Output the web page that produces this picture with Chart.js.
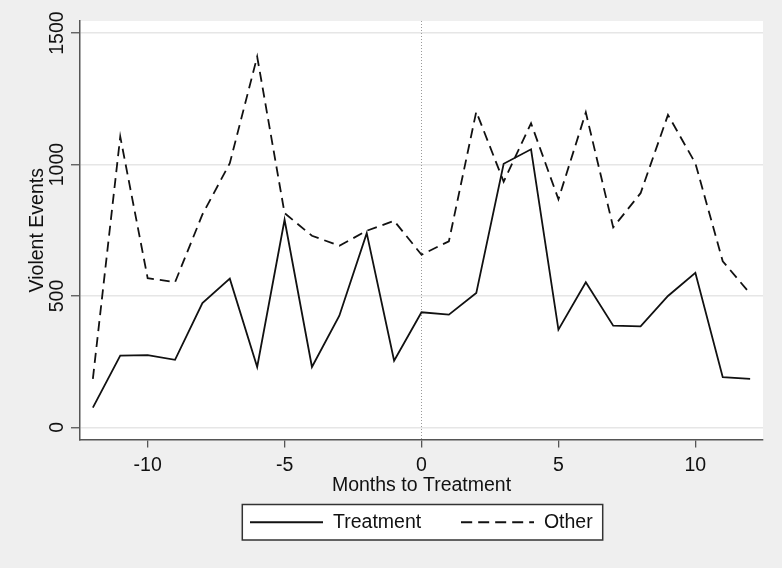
<!DOCTYPE html>
<html lang="en">
<head>
    <meta charset="UTF-8">
    <title>Violent Events by Months to Treatment</title>
    <script src="https://cdn.jsdelivr.net/npm/chart.js"></script>
    <style>
        body { margin: 0; background: #efefef; }
    </style>
</head>
<body>
    <canvas id="myChart" width="782" height="568"></canvas>
    <script>
        // values
        var months = [-12, -11, -10, -9, -8, -7, -6, -5, -4, -3, -2, -1, 0, 1, 2, 3, 4, 5, 6, 7, 8, 9, 10, 11, 12];
        var treatment = [75, 273, 275, 257, 473, 566, 230, 790, 230, 425, 739, 254, 438, 429, 511, 1003, 1058, 372, 552, 387, 384, 500, 588, 191, 185];
        var other = [185, 1106, 568, 552, 810, 1005, 1410, 815, 729, 691, 748, 786, 657, 708, 1201, 935, 1157, 868, 1198, 761, 891, 1189, 1005, 632, 509];
        var xTicks = [-10, -5, 0, 5, 10];
        var yTicks = [0, 500, 1000, 1500];

        function points(values) {
            return months.map(function(m, i) { return {x: m, y: values[i]}; });
        }

        // petit symbole de ligne pour la légende (plein ou tirets)
        function lineSymbol(dash) {
            var c = document.createElement('canvas');
            c.width = 73;
            c.height = 4;
            var g = c.getContext('2d');
            g.strokeStyle = '#111';
            g.lineWidth = 1.8;
            g.setLineDash(dash);
            g.beginPath();
            g.moveTo(0, 2);
            g.lineTo(73, 2);
            g.stroke();
            return c;
        }

        var FONT = "'Liberation Sans', Arial, sans-serif";
        Chart.defaults.font.family = FONT;
        Chart.defaults.font.size = 19.5;
        Chart.defaults.color = '#111';

        // fond gris / zone blanche, boîte de légende, ligne pointillée à 0, étiquettes verticales
        var decor = {
            id: 'decor',
            beforeDraw: function(chart) {
                var ctx = chart.ctx, a = chart.chartArea;
                ctx.save();
                ctx.fillStyle = '#efefef';
                ctx.fillRect(0, 0, chart.width, chart.height);
                ctx.fillStyle = '#ffffff';
                ctx.fillRect(a.left, a.top, a.right - a.left, a.bottom - a.top);
                var hb = chart.legend.legendHitBoxes;
                if (hb && hb.length) {
                    var l = hb[0].left - 8;
                    var last = hb[hb.length - 1];
                    var r = last.left + last.width + 10;
                    var t = hb[0].top - 8;
                    var b = hb[0].top + hb[0].height + 8;
                    ctx.fillRect(l, t, r - l, b - t);
                    ctx.strokeStyle = '#333';
                    ctx.lineWidth = 1.5;
                    ctx.strokeRect(l, t, r - l, b - t);
                }
                ctx.restore();
            },
            beforeDatasetsDraw: function(chart) {
                var ctx = chart.ctx, a = chart.chartArea;
                var x0 = chart.scales.x.getPixelForValue(0);
                ctx.save();
                ctx.strokeStyle = '#9a9a9a';
                ctx.lineWidth = 1;
                ctx.setLineDash([1, 2]);
                ctx.beginPath();
                ctx.moveTo(x0, a.top);
                ctx.lineTo(x0, a.bottom);
                ctx.stroke();
                ctx.restore();
            },
            afterDraw: function(chart) {
                var ctx = chart.ctx, y = chart.scales.y;
                ctx.save();
                ctx.fillStyle = '#111';
                ctx.font = '19.5px ' + FONT;
                ctx.textAlign = 'center';
                ctx.textBaseline = 'middle';
                y.ticks.forEach(function(t) {
                    ctx.save();
                    ctx.translate(58, y.getPixelForValue(t.value));
                    ctx.rotate(-Math.PI / 2);
                    ctx.fillText(String(t.value), 0, 0);
                    ctx.restore();
                });
                ctx.restore();
            }
        };

        var ctx = document.getElementById('myChart').getContext('2d');
        var myChart = new Chart(ctx, {
            type: 'line',
            data: {
                datasets: [{
                    label: 'Treatment',
                    data: points(treatment),
                    borderColor: '#111',
                    borderWidth: 1.8,
                    pointRadius: 0,
                    pointStyle: lineSymbol([]),
                    tension: 0,
                    fill: false
                }, {
                    label: 'Other',
                    data: points(other),
                    borderColor: '#111',
                    borderWidth: 1.8,
                    borderDash: [10, 6],
                    pointRadius: 0,
                    pointStyle: lineSymbol([11, 6]),
                    tension: 0,
                    fill: false
                }]
            },
            options: {
                responsive: false,
                animation: false,
                layout: { padding: { top: 21, right: 19, left: 0, bottom: 26 } },
                plugins: {
                    tooltip: { enabled: false },
                    legend: {
                        position: 'bottom',
                        fullSize: false,
                        labels: {
                            usePointStyle: true,
                            pointStyleWidth: 73,
                            padding: 40,
                            color: '#111',
                            font: { size: 19.5 }
                        }
                    }
                },
                scales: {
                    x: {
                        type: 'linear',
                        min: -12.47,
                        max: 12.47,
                        afterBuildTicks: function(s) { s.ticks = xTicks.map(function(v) { return {value: v}; }); },
                        afterFit: function(s) { s.height = 33; },
                        ticks: {
                            padding: 6,
                            color: '#111',
                            callback: function(v) { return String(v); }
                        },
                        grid: { drawOnChartArea: false, drawTicks: true, tickLength: 8, tickColor: '#555', lineWidth: 1.3 },
                        border: { color: '#555', width: 1.5 },
                        title: { display: true, text: 'Months to Treatment', color: '#111', padding: { top: 0, bottom: -25 } }
                    },
                    y: {
                        type: 'linear',
                        min: -46,
                        max: 1546,
                        afterBuildTicks: function(s) { s.ticks = yTicks.map(function(v) { return {value: v}; }); },
                        afterFit: function(s) { s.width = 80; },
                        ticks: { display: false },
                        grid: { color: '#e6e6e6', lineWidth: 1.5, tickLength: 9, tickColor: '#555', tickWidth: 1.3 },
                        border: { color: '#555', width: 1.5 },
                        title: { display: true, text: 'Violent Events', color: '#111', padding: { top: 26, bottom: 0 } }
                    }
                }
            },
            plugins: [decor]
        });
    </script>
</body>
</html>
